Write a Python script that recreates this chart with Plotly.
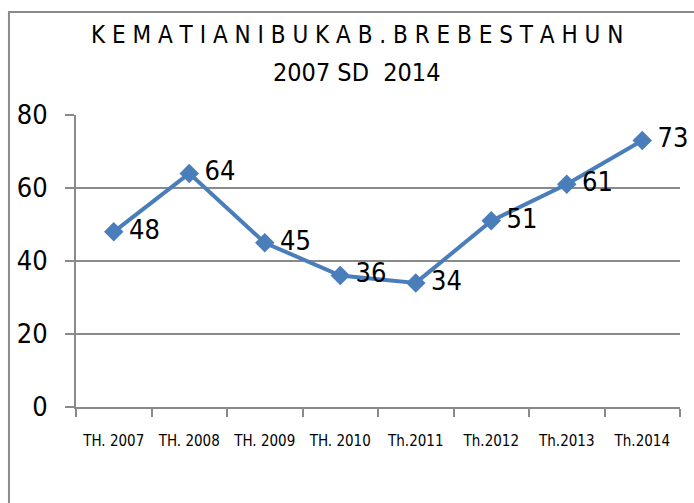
import plotly.graph_objects as go

categories = ["TH. 2007", "TH. 2008", "TH. 2009", "TH. 2010", "Th.2011", "Th.2012", "Th.2013", "Th.2014"]
values = [48, 64, 45, 36, 34, 51, 61, 73]
y_ticks = [0, 20, 40, 60, 80]
title_line1 = "K E M A T I A N I B U K A B . B R E B E S T A H U N"
title_line2 = "2007 SD  2014"

FONT = "DejaVu Sans Condensed, Liberation Sans Narrow, sans-serif"
GRAY = "#8a8a8a"

fig = go.Figure()
fig.add_trace(go.Scatter(
    x=categories, y=values, mode="lines+markers+text",
    line=dict(color="#4a7ebb", width=4),
    marker=dict(symbol="diamond", size=15, color="#4a7ebb"),
    text=["\u2009" + str(v) for v in values], textposition="middle right",
    textfont=dict(family=FONT, size=27, color="#000"),
    cliponaxis=False, showlegend=False,
))

fig.update_layout(
    width=694, height=503,
    margin=dict(l=76, r=14, t=115, b=96),
    paper_bgcolor="white", plot_bgcolor="white",
    font=dict(family=FONT, color="#000"),
    xaxis=dict(type="category", tickson="boundaries", ticks="outside", ticklen=8,
               tickwidth=2, tickcolor=GRAY, showline=True, linecolor=GRAY, linewidth=2,
               showgrid=False, tickfont=dict(family=FONT, size=15), ticklabelstandoff=19,
               range=[-0.5, 7.5]),
    yaxis=dict(range=[0, 80], tickvals=y_ticks, ticks="outside", ticklen=9, tickwidth=2,
               tickcolor=GRAY, showline=True, linecolor=GRAY, linewidth=2,
               showgrid=True, gridcolor=GRAY, gridwidth=2, zeroline=False,
               tickfont=dict(family=FONT, size=27), ticklabelstandoff=12),
    shapes=[dict(type="rect", xref="paper", yref="paper", x0=-0.111, x1=1.2,
                 y0=-0.6, y1=1.353, line=dict(color=GRAY, width=2), fillcolor="rgba(0,0,0,0)",
                 layer="below")],
    annotations=[
        dict(text=title_line1, xref="paper", yref="paper", x=0.465, y=1.274,
             xanchor="center", yanchor="middle", showarrow=False,
             font=dict(family=FONT, size=24, color="#000")),
        dict(text=title_line2, xref="paper", yref="paper", x=0.465, y=1.147,
             xanchor="center", yanchor="middle", showarrow=False,
             font=dict(family=FONT, size=25, color="#000")),
    ],
)

fig.write_html("out.html", config={"displayModeBar": False},
               post_script="document.body.style.margin='0';document.body.style.padding='0';")
